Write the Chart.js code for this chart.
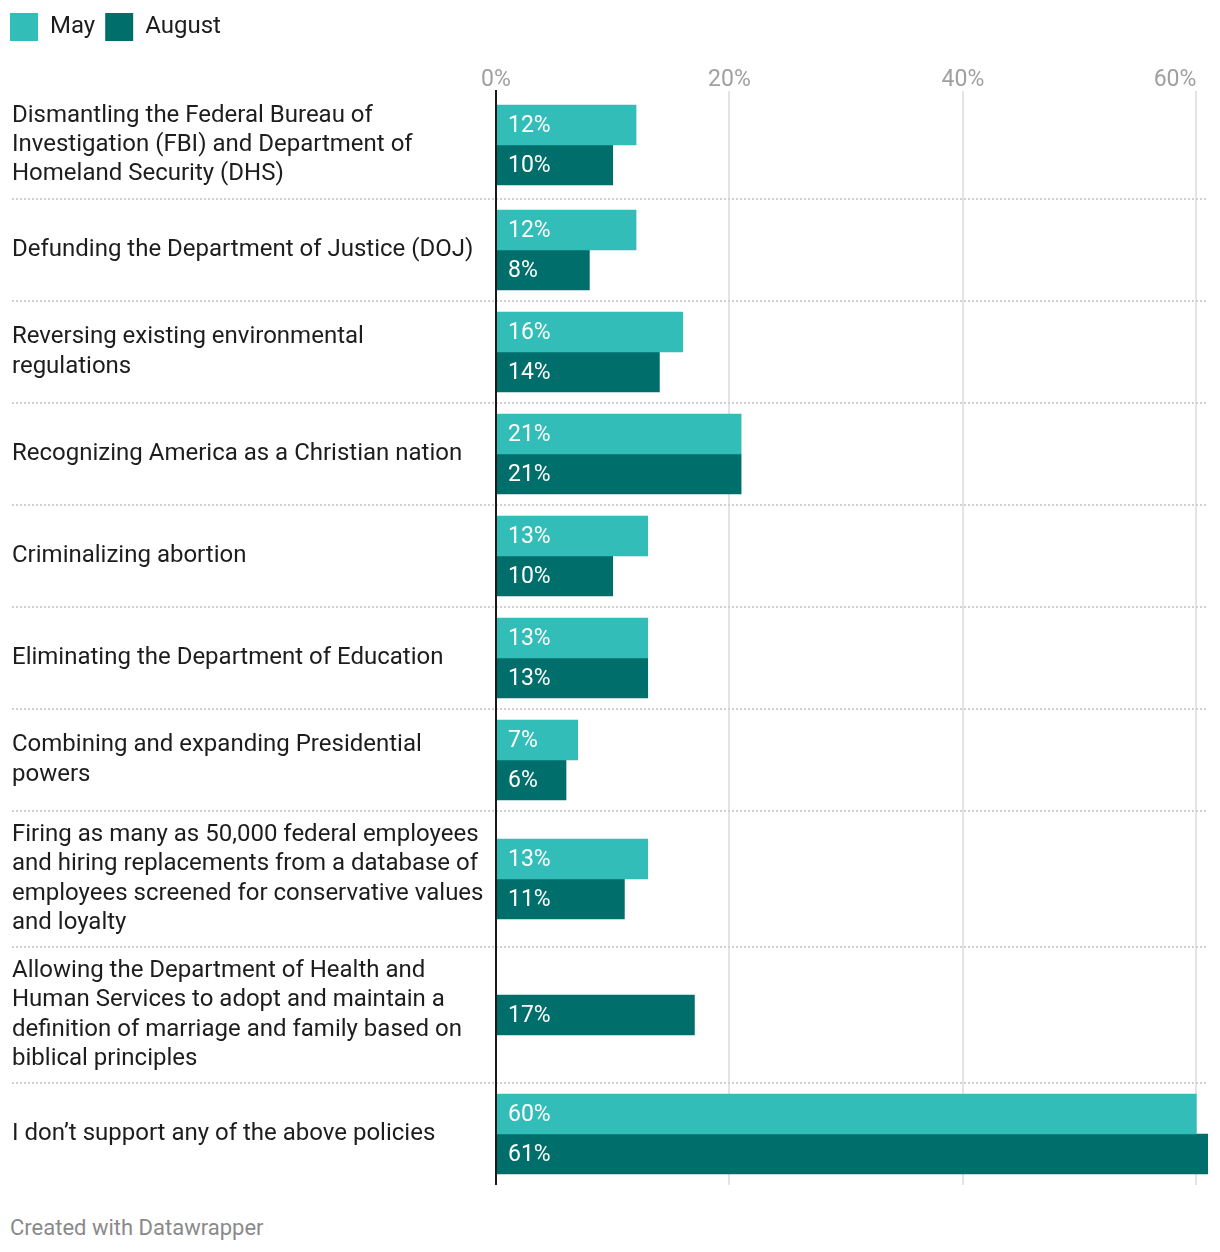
<!DOCTYPE html>
<html lang="en">

<head>
  <meta charset="UTF-8">
  <title>Policy support</title>
  <script src="https://cdn.jsdelivr.net/npm/chart.js"></script>
  <style>
    body { margin: 0; background: #fff; font-family: Roboto, sans-serif; }
    .wrap { position: relative; width: 1220px; height: 1185px; }
    .credit { position: absolute; left: 10px; top: 1215px; font-size: 22px; color: #8a8a8a; }
  </style>
</head>

<body>
  <div class="wrap"><canvas id="graphique"></canvas></div>
  <div class="credit">Created with Datawrapper</div>

  <script>
    // policies, already broken into lines like the original
    const categories = [
      ['Dismantling the Federal Bureau of', 'Investigation (FBI) and Department of', 'Homeland Security (DHS)'],
      ['Defunding the Department of Justice (DOJ)'],
      ['Reversing existing environmental', 'regulations'],
      ['Recognizing America as a Christian nation'],
      ['Criminalizing abortion'],
      ['Eliminating the Department of Education'],
      ['Combining and expanding Presidential', 'powers'],
      ['Firing as many as 50,000 federal employees', 'and hiring replacements from a database of', 'employees screened for conservative values', 'and loyalty'],
      ['Allowing the Department of Health and', 'Human Services to adopt and maintain a', 'definition of marriage and family based on', 'biblical principles'],
      ['I don’t support any of the above policies']
    ];
    const may = [12, 12, 16, 21, 13, 13, 7, 13, null, 60];
    const august = [10, 8, 14, 21, 10, 13, 6, 11, 17, 61];
    const xTicks = [0, 20, 40, 60];

    // rows grow with the number of label lines
    const rowHeights = categories.map(l => Math.max(102, 24 + 28 * l.length));
    const centers = [];
    const bounds = [];
    let acc = 0;
    rowHeights.forEach(h => {
      centers.push(acc + h / 2);
      acc += h;
      bounds.push(acc);
    });
    const total = acc;
    bounds.pop();

    const separateurs = {
      id: 'separateurs',
      beforeDatasetsDraw(chart) {
        const c = chart.ctx, y = chart.scales.y;
        c.save();
        c.strokeStyle = '#d0d0d0';
        c.lineWidth = 2;
        c.setLineDash([2, 2]);
        bounds.forEach(b => {
          const py = Math.round(y.getPixelForValue(b));
          c.beginPath();
          c.moveTo(12, py);
          c.lineTo(chart.chartArea.right, py);
          c.stroke();
        });
        c.restore();
      }
    };

    const valeurs = {
      id: 'valeurs',
      afterDatasetsDraw(chart) {
        const c = chart.ctx;
        c.save();
        c.font = '23px Roboto';
        c.fillStyle = '#fff';
        c.textBaseline = 'middle';
        c.textAlign = 'left';
        chart.data.datasets.forEach((ds, i) => {
          chart.getDatasetMeta(i).data.forEach((bar, j) => {
            if (ds.data[j].x == null) return;
            c.fillText(ds.data[j].x + '%', bar.base + 11, bar.y + 1);
          });
        });
        c.restore();
      }
    };

    // legend flush left, last x tick label ending on its gridline
    const retouches = {
      id: 'retouches',
      afterLayout(chart) { chart.legend.left -= 12; },
      beforeDraw(chart) {
        const items = chart.scales.x.getLabelItems();
        if (items.length) items[items.length - 1].options.textAlign = 'right';
      }
    };

    const ctx = document.getElementById('graphique').getContext('2d');

    new Chart(ctx, {
      type: 'bar',
      data: {
        datasets: [
          {
            label: 'May',
            backgroundColor: '#33bdb8',
            data: may.map((v, i) => ({ x: v, y: centers[i] }))
          },
          {
            label: 'August',
            backgroundColor: '#006f6b',
            data: august.map((v, i) => ({ x: v, y: centers[i] }))
          }
        ]
      },
      options: {
        indexAxis: 'y',
        animation: false,
        responsive: true,
        maintainAspectRatio: false,
        barThickness: 40,
        skipNull: true,
        layout: { padding: { left: 12, right: 12, top: 3, bottom: 0 } },
        scales: {
          x: {
            position: 'top',
            min: 0,
            max: 61,
            afterBuildTicks: s => { s.ticks = xTicks.map(v => ({ value: v })); },
            afterFit: s => { s.height = 40; },
            grid: { color: '#e4e4e4', lineWidth: 2, drawTicks: false },
            border: { display: false },
            ticks: {
              padding: -3,
              color: '#a0a0a0',
              font: { family: 'Roboto', size: 23 },
              callback: v => v + '%'
            }
          },
          y: {
            type: 'linear',
            reverse: true,
            offset: false,
            min: 0,
            max: total,
            afterBuildTicks: s => { s.ticks = centers.map(v => ({ value: v })); },
            afterFit: s => {
              s.width = 484;
              s.paddingTop = 0;
              s.paddingBottom = 0;
            },
            grid: { display: false },
            border: { display: true, color: '#1a1a1a', width: 2, z: 1 },
            ticks: {
              autoSkip: false,
              crossAlign: 'far',
              color: '#1d1d1d',
              font: { family: 'Roboto', size: 24, lineHeight: 1.22 },
              callback: (v, i) => categories[i]
            }
          }
        },
        plugins: {
          legend: {
            position: 'top',
            align: 'start',
            labels: {
              boxWidth: 28,
              boxHeight: 28,
              padding: 10,
              color: '#1d1d1d',
              font: { family: 'Roboto', size: 24 }
            }
          },
          tooltip: { enabled: false }
        }
      },
      plugins: [separateurs, valeurs, retouches]
    });
  </script>
</body>

</html>
